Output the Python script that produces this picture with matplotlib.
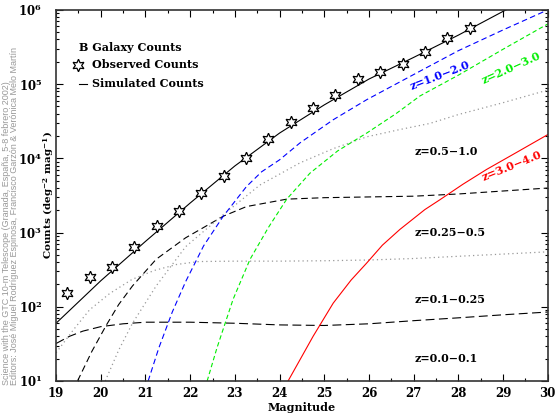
import numpy as np
import matplotlib
matplotlib.use("Agg")
import matplotlib.pyplot as plt
from matplotlib.ticker import LogLocator, MultipleLocator

plt.rcParams['font.family'] = ['DejaVu Serif']
plt.rcParams['font.weight'] = 'bold'
plt.rcParams['mathtext.fontset'] = 'dejavuserif'
plt.rcParams['mathtext.default'] = 'bf'

# observed B counts
obs_mag = [19.25, 19.75, 20.25, 20.75, 21.25, 21.75, 22.25, 22.75, 23.25, 23.75,
           24.25, 24.75, 25.25, 25.75, 26.25, 26.75, 27.25, 27.75, 28.25]
obs_cnt = [155, 252, 345, 630, 1240, 1970, 3440, 5840, 10200, 18400,
           31100, 47500, 70300, 118000, 145000, 187000, 270000, 416000, 568000]

# simulated total
tot_mag = [19, 20, 21, 22, 23, 24, 25, 26, 27, 28, 29, 30]
tot_cnt = [60, 224, 760, 2500, 7900, 21900, 52500, 117000, 229000, 457000, 955000, 1860000]

# redshift slices
z1_mag = [19, 19.3, 19.6, 20, 20.5, 21, 22, 23, 24, 25, 26, 27, 28, 29, 30]
z1_cnt = [32, 40, 47, 54, 59, 62, 62, 60, 57, 56, 59, 65, 71, 78, 85]

z2_mag = [19, 19.4, 19.75, 20.2, 20.7, 21.2, 21.7, 22.2, 23, 24, 25, 26, 27, 28, 29, 30]
z2_cnt = [24, 50, 91, 151, 234, 309, 372, 407, 412, 412, 417, 427, 447, 479, 513, 550]

z3_mag = [19.48, 19.8, 20.12, 20.4, 20.71, 21.24, 21.9, 22.74, 23.26, 24.16, 25, 26, 27, 28, 29, 30]
z3_cnt = [10, 25, 56, 107, 191, 437, 851, 1660, 2240, 2820, 2950, 3020, 3090, 3310, 3630, 3980]

z4_mag = [20.1, 20.4, 20.71, 21.24, 21.9, 22.74, 23.56, 24.46, 25.2, 25.95, 26.7, 27.36, 28, 29, 30]
z4_cnt = [10, 26, 60, 191, 646, 1740, 4370, 8710, 13500, 19500, 24500, 29500, 38900, 56200, 83200]

z5_mag = [21.06, 21.3, 21.6, 21.9, 22.3, 22.74, 23.26, 23.6, 24.0, 24.46, 25.2, 25.95, 26.6, 27.25, 28, 29, 30]
z5_cnt = [10, 28, 85, 219, 661, 1660, 4170, 6600, 9550, 16200, 33100, 61700, 100000, 162000, 282000, 537000, 1000000]

z6_mag = [22.38, 22.6, 22.96, 23.34, 23.75, 24.16, 24.68, 25.3, 25.95, 26.6, 27.14, 28, 29, 30]
z6_cnt = [10, 28, 126, 437, 1170, 2820, 6310, 12600, 21900, 39800, 69200, 132000, 295000, 646000]

z7_mag = [24.19, 24.46, 24.75, 25.2, 25.6, 25.95, 26.3, 26.69, 27.25, 27.58, 28.1, 28.63, 29.3, 30]
z7_cnt = [10, 19.5, 40, 112, 229, 389, 676, 1100, 2040, 2750, 4470, 7080, 12000, 20900]

fig = plt.figure(figsize=(5.55, 4.17), dpi=100)
ax = fig.add_axes([0.101, 0.0863, 0.886, 0.89])

ax.plot(z1_mag, z1_cnt, color='black', lw=0.8, dashes=(8, 4))
ax.plot(z2_mag, z2_cnt, color='#999999', lw=0.9, dashes=(1, 2.5))
ax.plot(z3_mag, z3_cnt, color='black', lw=0.8, dashes=(6, 3.5))
ax.plot(z4_mag, z4_cnt, color='#999999', lw=0.9, dashes=(1, 2.5))
ax.plot(z5_mag, z5_cnt, color='#0000ff', lw=0.8, dashes=(5, 3))
ax.plot(z6_mag, z6_cnt, color='#00ee00', lw=0.8, dashes=(4, 2.5))
ax.plot(z7_mag, z7_cnt, color='#ff0000', lw=0.8)
ax.plot(tot_mag, tot_cnt, color='black', lw=0.8)
ax.plot(obs_mag, obs_cnt, ls='none', marker=(6, 1, 0), ms=9,
        mfc='white', mec='black', mew=0.9)

ax.set_yscale('log')
ax.set_xlim(19, 30)
ax.set_ylim(10, 1e6)
ax.xaxis.set_major_locator(MultipleLocator(1))
ax.xaxis.set_minor_locator(MultipleLocator(0.5))
ax.yaxis.set_major_locator(LogLocator(base=10, numticks=10))
ax.yaxis.set_minor_locator(LogLocator(base=10, subs=np.arange(2, 10), numticks=20))
ax.tick_params(which='both', direction='in', top=True, right=True, width=0.8)
ax.tick_params(which='major', length=5, labelsize=8.5)
ax.tick_params(axis='y', which='major', pad=10)
ax.tick_params(axis='x', which='major', pad=4)
ax.tick_params(which='minor', length=2.5)
for s in ax.spines.values():
    s.set_linewidth(1.2)
    s.set_color('#333333')

ax.set_xlabel('Magnitude', fontsize=8, fontweight='bold', labelpad=2)
ax.set_ylabel(r'Counts (deg$^{-2}$ mag$^{-1}$)', fontsize=7.5, fontweight='bold')
ax.yaxis.set_label_coords(0.0, 0.5)

fs = 8
# legend block
ax.text(0.047, 0.899, 'B Galaxy Counts', transform=ax.transAxes, fontsize=fs, fontweight='bold', va='center')
ax.plot([0.045], [0.852], transform=ax.transAxes, marker=(6, 1, 0), ms=9,
        mfc='white', mec='black', mew=0.9, clip_on=False)
ax.text(0.074, 0.852, 'Observed Counts', transform=ax.transAxes, fontsize=fs, fontweight='bold', va='center')
ax.plot([0.047, 0.063], [0.801, 0.801], transform=ax.transAxes, color='black', lw=0.8)
ax.text(0.074, 0.801, 'Simulated Counts', transform=ax.transAxes, fontsize=fs, fontweight='bold', va='center')

# slice labels
ax.text(27.03, 12300, 'z=0.5\u22121.0', fontsize=fs, fontweight='bold', va='center')
ax.text(27.03, 1000, 'z=0.25\u22120.5', fontsize=fs, fontweight='bold', va='center')
ax.text(27.03, 125, 'z=0.1\u22120.25', fontsize=fs, fontweight='bold', va='center')
ax.text(27.03, 20, 'z=0.0\u22120.1', fontsize=fs, fontweight='bold', va='center')
ax.text(27.58, 1.33e5, 'z=1.0\u22122.0', fontsize=fs, fontweight='bold', color='#0000ff',
        ha='center', va='center', rotation=21)
ax.text(29.19, 1.66e5, 'z=2.0\u22123.0', fontsize=fs, fontweight='bold', color='#00ee00',
        ha='center', va='center', rotation=24)
ax.text(29.19, 7800, 'z=3.0\u22124.0', fontsize=fs, fontweight='bold', color='#ff0000',
        ha='center', va='center', rotation=22)

# side notes
fig.text(0.0126, 0.077, 'Science with the GTC 10-m Telescope (Granada, España, 5-8 febrero 2002)',
         rotation=90, ha='center', va='bottom', fontsize=6.5, color='#999999',
         family='Liberation Sans', weight='normal')
fig.text(0.0265, 0.077, 'Editors: José Miguel Rodríguez Espinosa, Francisco Garzón & Verónica Melo Martín',
         rotation=90, ha='center', va='bottom', fontsize=6.5, color='#999999',
         family='Liberation Sans', weight='normal')

fig.savefig('out.png', dpi=100)
